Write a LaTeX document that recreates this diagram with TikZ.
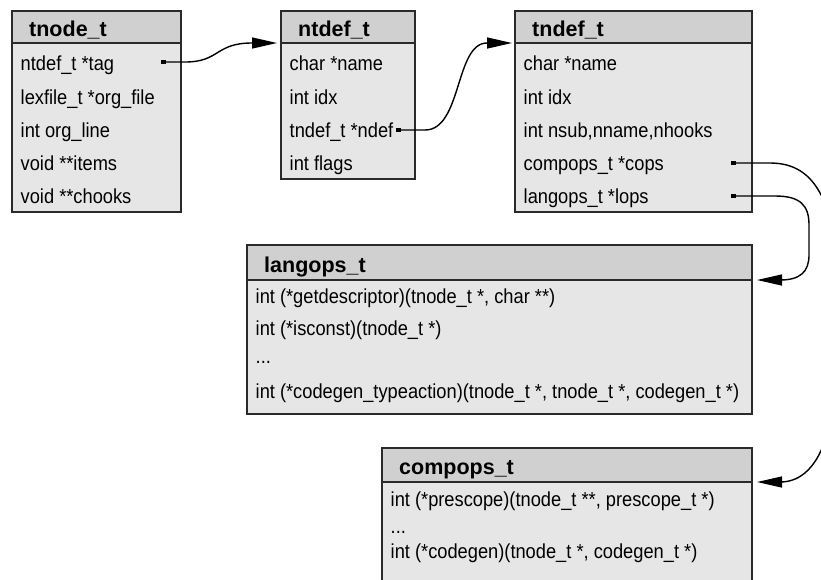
\documentclass[tikz,border=0pt]{standalone}
\usepackage{fontspec}
\setmainfont[FakeStretch=0.9]{Liberation Sans}
\newfontfamily\hdrfont{Liberation Sans}
\usetikzlibrary{arrows.meta,calc}
\definecolor{hdrgray}{HTML}{D0D0D0}
\definecolor{bodygray}{HTML}{E6E6E6}
\definecolor{edgegray}{HTML}{2A2A2A}
\begin{document}
\begin{tikzpicture}[x=1pt,y=-1pt,
  box/.style={draw=edgegray, line width=1.4pt, inner sep=0pt, outer sep=0pt, anchor=north west},
  hdr/.style={box, fill=hdrgray, minimum height=32pt},
  body/.style={box, fill=bodygray},
  htext/.style={anchor=base west, inner sep=0pt, font=\hdrfont\bfseries\fontsize{21.5}{24}\selectfont},
  rtext/.style={anchor=base west, inner sep=0pt, font=\fontsize{20.3}{24}\selectfont},
  ptr/.style={line width=1.4pt, draw=black},
  tip/.style={-{Triangle[length=25pt,width=11pt]}},
  sq/.style={fill=black, minimum width=5pt, minimum height=4pt, inner sep=0pt, outer sep=0pt}
]
\useasboundingbox (0,0) rectangle (821,579);
\clip (0,0) rectangle (821,579);

% tnode_t
\node[body, minimum width=169pt, minimum height=169pt] (tnodeB) at (12,43) {};
\node[hdr, minimum width=169pt] (tnodeH) at (12,11) {};
\node[htext] (tnodeT) at (29,36) {tnode\_t};
\node[rtext] (tn1) at (20.5,70) {ntdef\_t *tag};
\node[rtext] (tn2) at (20.5,104) {lexfile\_t *org\_file};
\node[rtext] (tn3) at (20.5,137) {int org\_line};
\node[rtext] (tn4) at (20.5,170) {void **items};
\node[rtext] (tn5) at (20.5,203) {void **chooks};
\node[sq] (tagsq) at (163,62) {};

% ntdef_t
\node[body, minimum width=134pt, minimum height=136pt] (ntdefB) at (281,43) {};
\node[hdr, minimum width=134pt] (ntdefH) at (281,11) {};
\node[htext] (ntdefT) at (298,36) {ntdef\_t};
\node[rtext] (nd1) at (289.5,70) {char *name};
\node[rtext] (nd2) at (289.5,104) {int idx};
\node[rtext] (nd3) at (289.5,137) {tndef\_t *ndef};
\node[rtext] (nd4) at (289.5,170) {int flags};
\node[sq] (ndefsq) at (398,130) {};

% tndef_t
\node[body, minimum width=237pt, minimum height=169pt] (tndefB) at (515,43) {};
\node[hdr, minimum width=237pt] (tndefH) at (515,11) {};
\node[htext] (tndefT) at (532,36) {tndef\_t};
\node[rtext] (td1) at (523.5,70) {char *name};
\node[rtext] (td2) at (523.5,104) {int idx};
\node[rtext] (td3) at (523.5,137) {int nsub,nname,nhooks};
\node[rtext] (td4) at (523.5,170) {compops\_t *cops};
\node[rtext] (td5) at (523.5,203) {langops\_t *lops};
\node[sq] (copssq) at (733,163) {};
\node[sq] (lopssq) at (733,196) {};

% langops_t
\node[body, minimum width=505pt, minimum height=134pt] (langB) at (247,280) {};
\node[hdr, minimum width=505pt, minimum height=35pt] (langH) at (247,245) {};
\node[htext] (langT) at (264,272) {langops\_t};
\node[rtext] (lg1) at (255.5,303) {int (*getdescriptor)(tnode\_t *, char **)};
\node[rtext] (lg2) at (255.5,335) {int (*isconst)(tnode\_t *)};
\node[rtext] (lg3) at (255.5,363) {...};
\node[rtext] (lg4) at (255.5,398) {int (*codegen\_typeaction)(tnode\_t *, tnode\_t *, codegen\_t *)};

% compops_t
\node[body, minimum width=370pt, minimum height=130pt] (compB) at (382,482) {};
\node[hdr, minimum width=370pt, minimum height=34pt] (compH) at (382,448) {};
\node[htext] (compT) at (399,474) {compops\_t};
\node[rtext] (cp1) at (390.5,506) {int (*prescope)(tnode\_t **, prescope\_t *)};
\node[rtext] (cp2) at (390.5,533) {...};
\node[rtext] (cp3) at (390.5,558) {int (*codegen)(tnode\_t *, codegen\_t *)};

% entry points
\coordinate (ntdefIn) at ($(ntdefH.south west)+(-4,0)$);
\coordinate (tndefIn) at ($(tndefH.south west)+(-3,0)$);
\coordinate (langIn) at ($(langH.south east)+(5,0)$);
\coordinate (compIn) at ($(compH.south east)+(5,0)$);

% connectors
\draw[ptr,tip] (tagsq.center) -- ++(22,0) .. controls +(35,0) and +(-37,0) .. ($(ntdefIn)+(-25,0)$) -- (ntdefIn);
\draw[ptr,tip] (ndefsq.center) -- ++(27,0) .. controls +(37,0) and +(-32,0) .. ($(tndefIn)+(-25,0)$) -- (tndefIn);
\draw[ptr,tip] (lopssq.center) -- (775,196) .. controls (800,196) and (809,205) .. (809,225) -- (809,255) .. controls (809,272) and (800,280) .. ($(langIn)+(23,0)$) -- (langIn);
\draw[ptr,tip] (copssq.center) -- (770,163) .. controls (815,163) and (840,200) .. (840,320) .. controls (840,440) and (815,482) .. ($(compIn)+(23,0)$) -- (compIn);
\end{tikzpicture}
\end{document}
